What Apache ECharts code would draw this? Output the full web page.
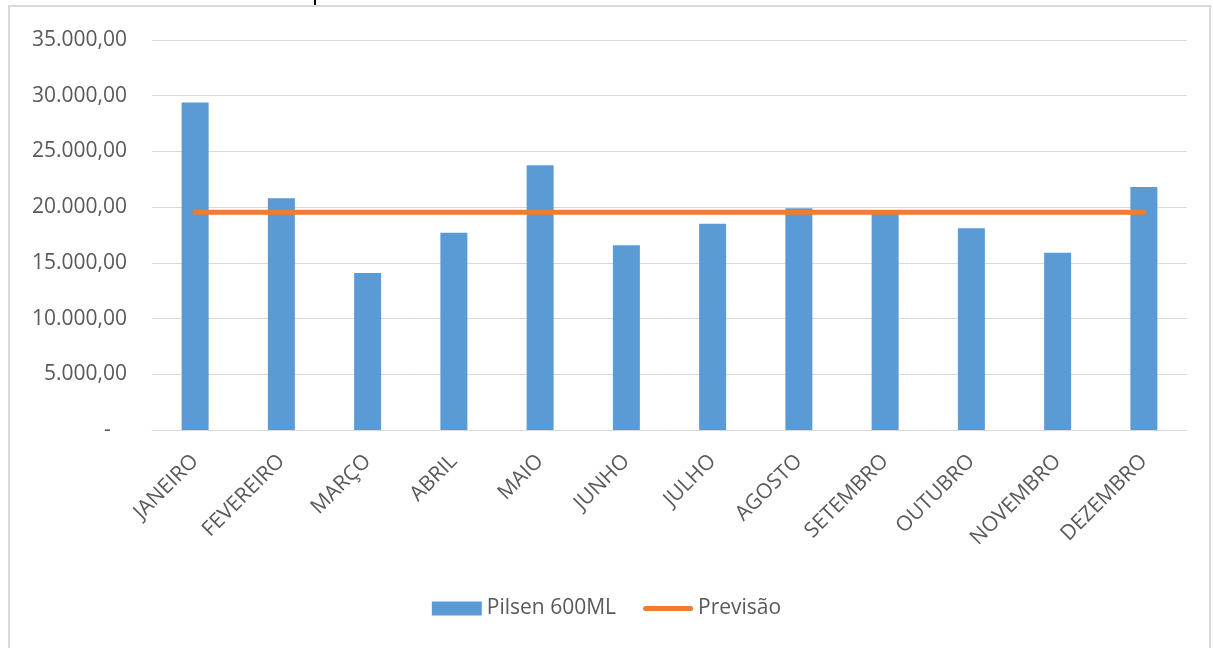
<!DOCTYPE html>
<html>
<head>
<meta charset="utf-8">
<script src="https://cdn.jsdelivr.net/npm/echarts@6/dist/echarts.min.js"></script>
<style>
  html, body { margin: 0; padding: 0; background: #ffffff; }
  #chart { width: 1213px; height: 648px; }
</style>
</head>
<body>
<div id="chart"></div>
<script>
// Monthly sales of Pilsen 600ML and the forecast level
const months = ['JANEIRO', 'FEVEREIRO', 'MARÇO', 'ABRIL', 'MAIO', 'JUNHO',
                'JULHO', 'AGOSTO', 'SETEMBRO', 'OUTUBRO', 'NOVEMBRO', 'DEZEMBRO'];
const pilsen600 = [29400, 20800, 14100, 17700, 23750, 16580,
                   18500, 19900, 19400, 18100, 15900, 21800];
const previsao = [19540, 19540, 19540, 19540, 19540, 19540,
                  19540, 19540, 19540, 19540, 19540, 19540];
const seriesNames = ['Pilsen 600ML', 'Previsão'];

const textColor = '#595959';
const fontFamily = '"Open Sans", "Noto Sans", sans-serif';

// Brazilian number format: 35.000,00 and "-" for zero
function fmtBR(v) {
  if (v === 0) return '-   ';
  const s = Math.round(v).toString().replace(/\B(?=(\d{3})+(?!\d))/g, '.');
  return s + ',00';
}

// Thin rounded stroke used as the legend marker of the line series
// (the leading moves keep the full 50x14 box so the band is not stretched)
const lineIcon = 'path://M0,0 M50,14 M2.5,4.5 L47.5,4.5 A2.5,2.5 0 0 1 47.5,9.5 L2.5,9.5 A2.5,2.5 0 0 1 2.5,4.5 Z';

const chart = echarts.init(document.getElementById('chart'));
chart.setOption({
  animation: false,
  backgroundColor: '#ffffff',
  textStyle: { fontFamily: fontFamily },
  graphic: [
    {
      type: 'rect',
      shape: { x: 9, y: 6, width: 1201, height: 660 },
      style: { fill: 'none', stroke: '#D9D9D9', lineWidth: 2 },
      silent: true
    },
    {
      type: 'rect',
      shape: { x: 314, y: 0, width: 2, height: 5 },
      style: { fill: '#000000' },
      silent: true
    }
  ],
  grid: { left: 152, right: 26, top: 40, bottom: 218, containLabel: false },
  legend: {
    bottom: 24,
    left: 'center',
    itemWidth: 50,
    itemHeight: 14,
    itemGap: 27,
    textStyle: { color: textColor, fontSize: 21, fontFamily: fontFamily, padding: [0, 0, 0, 0] },
    data: [
      { name: seriesNames[0], icon: 'rect' },
      { name: seriesNames[1], icon: lineIcon, itemStyle: { color: '#ED7D31' } }
    ]
  },
  xAxis: {
    type: 'category',
    data: months,
    axisLine: { lineStyle: { color: '#D9D9D9', width: 1 } },
    axisTick: { show: false },
    axisLabel: {
      rotate: 45,
      interval: 0,
      margin: 28,
      color: textColor,
      fontSize: 21,
      fontFamily: fontFamily
    }
  },
  yAxis: {
    type: 'value',
    min: 0,
    max: 35000,
    interval: 5000,
    axisLine: { show: false },
    axisTick: { show: false },
    splitLine: { lineStyle: { color: '#D9D9D9', width: 1 } },
    axisLabel: {
      margin: 25,
      color: textColor,
      fontSize: 21,
      fontFamily: fontFamily,
      formatter: fmtBR
    }
  },
  series: [
    {
      name: seriesNames[0],
      type: 'bar',
      data: pilsen600,
      barWidth: 27,
      itemStyle: { color: '#5B9BD5' },
      z: 2
    },
    {
      name: seriesNames[1],
      type: 'line',
      data: previsao,
      symbol: 'none',
      lineStyle: { color: '#ED7D31', width: 5, cap: 'round' },
      itemStyle: { color: '#ED7D31' },
      z: 3
    }
  ]
});
</script>
</body>
</html>
